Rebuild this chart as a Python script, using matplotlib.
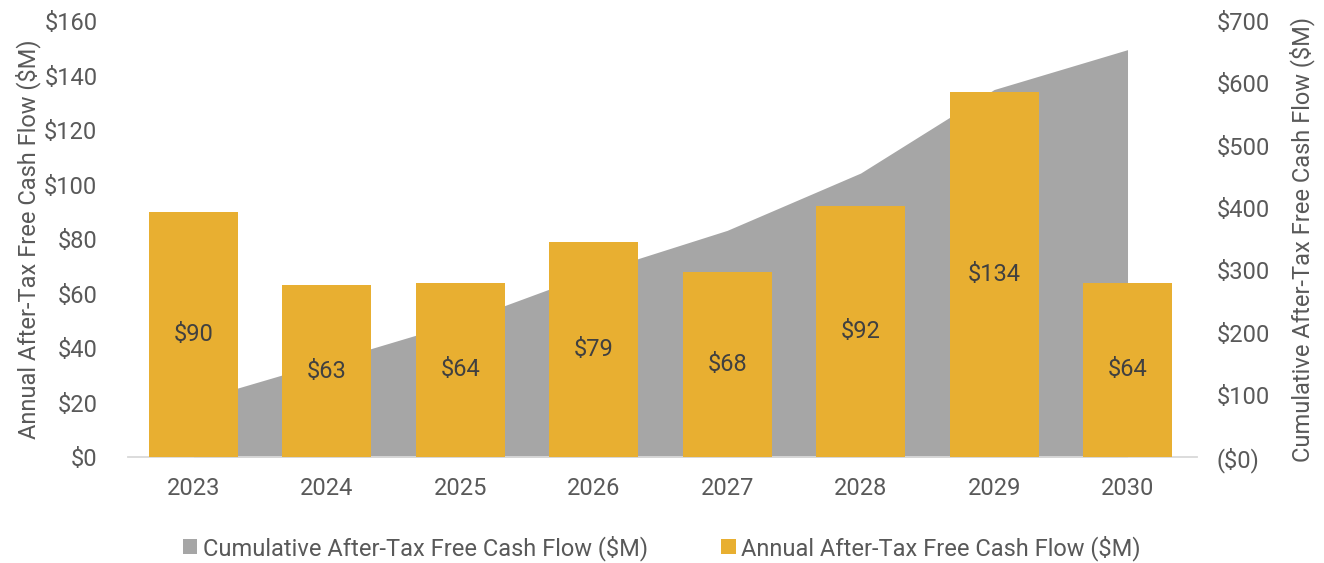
import matplotlib.pyplot as plt
import numpy as np

# chart data
years = ["2023", "2024", "2025", "2026", "2027", "2028", "2029", "2030"]
annual = [90, 63, 64, 79, 68, 92, 134, 64]
cumulative = [90, 153, 217, 296, 364, 456, 590, 654]

left_ticks = [0, 20, 40, 60, 80, 100, 120, 140, 160]
right_ticks = [0, 100, 200, 300, 400, 500, 600, 700]

gold = "#E8AF31"
grey = "#A6A6A6"
txt = "#595959"
fs = 17

plt.rcParams['font.family'] = ['Roboto', 'DejaVu Sans']

fig = plt.figure(figsize=(13.24, 5.63), dpi=100)
ax = fig.add_axes([0.0967, 0.188, 0.8073, 0.7747])
ax2 = ax.twinx()

x = np.arange(len(years))

# cumulative area on the right axis, behind the bars
ax2.fill_between(x, 0, cumulative, color=grey, linewidth=0,
                 label="Cumulative After-Tax Free Cash Flow ($M)")
ax2.set_ylim(0, 700)
ax2.set_yticks(right_ticks)
ax2.set_yticklabels(["($0)"] + [f"${v}" for v in right_ticks[1:]])

bars = ax.bar(x, annual, width=0.667, color=gold, zorder=3,
              label="Annual After-Tax Free Cash Flow ($M)")
for i, v in enumerate(annual):
    ax.text(i, v / 2, f"${v}", ha="center", va="center", fontsize=fs, color="#404040", zorder=4)

ax.set_ylim(0, 160)
ax.set_yticks(left_ticks)
ax.set_yticklabels([f"${v}" for v in left_ticks])
ax.set_xlim(-0.49, 7.52)
ax.set_xticks(x)
ax.set_xticklabels(years)

ax.set_zorder(ax2.get_zorder() + 1)
ax.patch.set_visible(False)

for a in (ax, ax2):
    for s in a.spines.values():
        s.set_visible(False)
    a.tick_params(length=0, labelsize=fs, colors=txt)
ax.spines['bottom'].set_visible(True)
ax.spines['bottom'].set_color("#D9D9D9")
ax.spines['bottom'].set_linewidth(1.3)
ax.tick_params(axis='x', pad=14)
ax.tick_params(axis='y', pad=22)
ax2.tick_params(axis='y', pad=14)

ax.set_ylabel("Annual After-Tax Free Cash Flow ($M)", fontsize=fs, color=txt, labelpad=2)
ax2.set_ylabel("Cumulative After-Tax Free Cash Flow ($M)", fontsize=fs, color=txt, labelpad=14)

h1, l1 = ax2.get_legend_handles_labels()
h2, l2 = ax.get_legend_handles_labels()
fig.legend(h1 + h2, l1 + l2, loc="center", bbox_to_anchor=(0.5, 0.027), ncol=2,
           frameon=False, fontsize=fs, labelcolor=txt, handlelength=0.6, handleheight=0.6,
           handletextpad=0.25, columnspacing=3.1)

fig.savefig("out.png", dpi=100)
